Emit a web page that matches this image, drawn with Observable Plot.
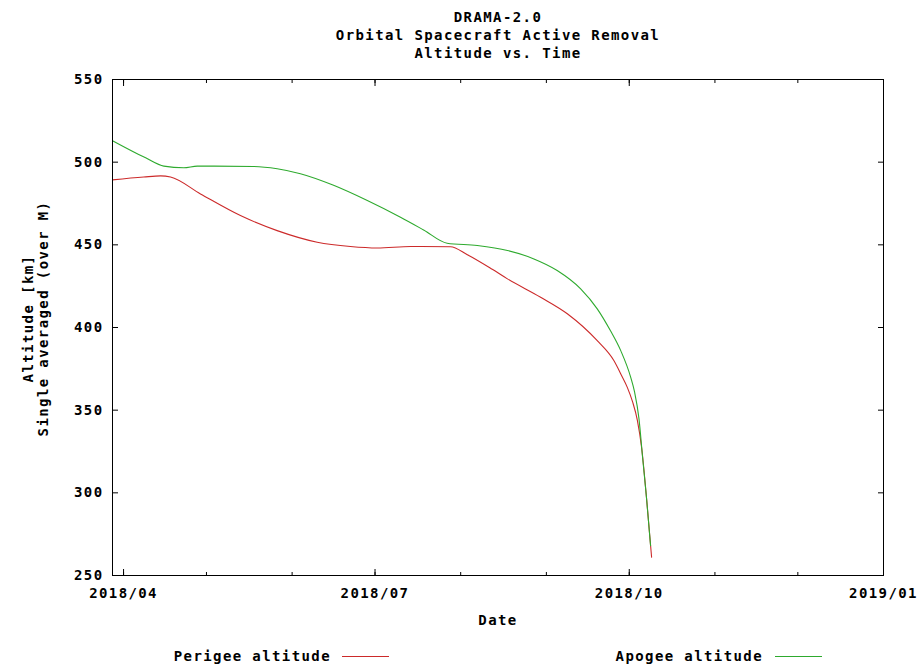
<!DOCTYPE html>
<html>
<head>
<meta charset="utf-8">
<script src="https://cdn.jsdelivr.net/npm/d3@7"></script>
<script src="https://cdn.jsdelivr.net/npm/@observablehq/plot@0.6"></script>
<style>
  html, body { margin: 0; padding: 0; background: #fff; }
  #wrap { position: relative; width: 917px; height: 666px; font-family: "DejaVu Sans Mono", monospace; font-weight: bold; font-size: 14px; letter-spacing: 1.4px; color: #000; }
  .leg { position: absolute; top: 648px; white-space: nowrap; line-height: 16px; }
  .sw { position: absolute; height: 0; border-top: 1px solid; }
</style>
</head>
<body>
<div id="wrap"></div>
<script>
// ---- data ----
const titleLines = ["DRAMA-2.0", "Orbital Spacecraft Active Removal", "Altitude vs. Time"];
const xLabel = "Date";
const yLabelLines = ["Altitude [km]", "Single averaged (over M)"];
const seriesNames = ["Perigee altitude", "Apogee altitude"];
const seriesColors = ["#cc2a2a", "#2eaa2e"];

const xDomain = ["2018-03-28T00:00", "2019-01-01T00:00"];
const yDomain = [250, 550];
const yTicks = [250, 300, 350, 400, 450, 500, 550];
const quarterTicks = ["2018-04-01T00:00", "2018-07-01T00:00", "2018-10-01T00:00", "2019-01-01T00:00"];
const monthTicks = ["2018-04-01T00:00", "2018-05-01T00:00", "2018-06-01T00:00", "2018-07-01T00:00", "2018-08-01T00:00",
  "2018-09-01T00:00", "2018-10-01T00:00", "2018-11-01T00:00", "2018-12-01T00:00", "2019-01-01T00:00"];

const perigeeDates = ["2018-03-28T00:00", "2018-04-08T07:00", "2018-04-14T10:00", "2018-04-18T00:00", "2018-04-28T20:00",
  "2018-05-13T07:00", "2018-05-26T14:00", "2018-06-10T02:00", "2018-06-22T02:00", "2018-07-01T19:00",
  "2018-07-13T22:00", "2018-07-28T07:00", "2018-08-03T10:00", "2018-08-12T10:00",
  "2018-08-17T22:00", "2018-08-29T22:00", "2018-09-08T14:00", "2018-09-19T10:00", "2018-09-25T10:00",
  "2018-09-28T05:00", "2018-09-30T07:00", "2018-10-02T05:00", "2018-10-03T22:00", "2018-10-05T12:00",
  "2018-10-07T07:00", "2018-10-09T02:00"];
const perigeeAlt = [489.3, 491.0, 491.7, 491.0, 480.8,
  467.7, 458.6, 451.6, 449.0, 448.1,
  449.0, 448.8, 444.0, 435.2,
  429.4, 418.3, 408.3, 392.0, 380.0,
  371.0, 363.8, 355.0, 344.0, 327.0,
  296.0, 261.0];

const apogeeDates = ["2018-03-28T00:00", "2018-04-09T00:00", "2018-04-15T14:00", "2018-04-22T19:00", "2018-04-27T16:00",
  "2018-05-18T00:00", "2018-05-26T14:00", "2018-06-04T00:00", "2018-06-16T00:00", "2018-06-28T05:00",
  "2018-07-10T05:00", "2018-07-18T14:00", "2018-07-27T02:00", "2018-08-07T00:00",
  "2018-08-17T22:00", "2018-08-27T12:00", "2018-09-04T22:00", "2018-09-13T10:00", "2018-09-19T10:00",
  "2018-09-24T05:00", "2018-09-27T22:00", "2018-10-01T12:00", "2018-10-02T22:00", "2018-10-04T12:00",
  "2018-10-05T19:00", "2018-10-07T07:00", "2018-10-08T17:00"];
const apogeeAlt = [513.0, 502.6, 497.6, 496.6, 497.6,
  497.4, 496.0, 493.0, 486.0, 476.8,
  466.7, 459.0, 451.0, 449.6,
  446.6, 441.5, 434.5, 423.4, 411.3,
  398.0, 386.0, 370.0, 361.0, 345.0,
  322.0, 296.0, 268.0];

// ---- build ----
const parse = d3.utcParse("%Y-%m-%dT%H:%M");
const perigee = perigeeDates.map((d, i) => ({date: parse(d), alt: perigeeAlt[i]}));
const apogee = apogeeDates.map((d, i) => ({date: parse(d), alt: apogeeAlt[i]}));
const qT = quarterTicks.map(parse);
const mT = monthTicks.map(parse);

const chart = Plot.plot({
  width: 917,
  height: 640,
  marginTop: 79,
  marginLeft: 112,
  marginRight: 34,
  marginBottom: 65,
  x: {type: "utc", domain: xDomain.map(parse)},
  y: {domain: yDomain},
  style: {fontFamily: "'DejaVu Sans Mono', monospace", fontSize: "14px", fontWeight: "bold", letterSpacing: "1.4px", color: "#000", background: "#fff", overflow: "visible"},
  marks: [
    Plot.axisY({ticks: yTicks, tickSize: 0, tickPadding: 9, label: null}),
    Plot.axisY({ticks: yTicks, tickSize: -6, fill: "none", label: null}),
    Plot.axisY({anchor: "right", ticks: yTicks, tickSize: -6, fill: "none", label: null}),
    Plot.axisX({ticks: qT, tickSize: 0, tickPadding: 13, tickFormat: d3.utcFormat("%Y/%m"), label: null}),
    Plot.axisX({ticks: qT, tickSize: -6, fill: "none", label: null}),
    Plot.axisX({ticks: mT, tickSize: -3, fill: "none", label: null}),
    Plot.axisX({anchor: "top", ticks: qT, tickSize: -6, fill: "none", label: null}),
    Plot.axisX({anchor: "top", ticks: mT, tickSize: -3, fill: "none", label: null}),
    Plot.line(perigee, {x: "date", y: "alt", stroke: seriesColors[0], strokeWidth: 1.1, curve: "monotone-x"}),
    Plot.line(apogee, {x: "date", y: "alt", stroke: seriesColors[1], strokeWidth: 1.1, curve: "monotone-x"}),
    Plot.frame({stroke: "#000", strokeWidth: 1}),
    Plot.text([titleLines.join("\n")], {text: d => d, frameAnchor: "top", lineAnchor: "top", dy: -70, lineHeight: 1.286, fontSize: 14, fontWeight: "bold"}),
    Plot.text([xLabel], {text: d => d, frameAnchor: "bottom", lineAnchor: "top", dy: 40, fontSize: 14, fontWeight: "bold"}),
    Plot.text([yLabelLines.join("\n")], {text: d => d, frameAnchor: "left", textAnchor: "middle", rotate: -90, lineAnchor: "middle", lineHeight: 1.07, dx: -77, dy: -9, fontSize: 14, fontWeight: "bold", ariaLabel: "ytitle"})
  ]
});

d3.select(chart).selectAll('g[aria-label="ytitle"]').style("letter-spacing", "0.4px");

const wrap = document.getElementById("wrap");
wrap.appendChild(chart);

// legend (below the SVG)
const legendPos = [{textRight: 331, lineLeft: 342, lineRight: 389}, {textRight: 763, lineLeft: 775, lineRight: 822}];
seriesNames.forEach((name, i) => {
  const t = document.createElement("div");
  t.className = "leg";
  t.textContent = name;
  t.style.right = (917 - legendPos[i].textRight) + "px";
  wrap.appendChild(t);
  const s = document.createElement("div");
  s.className = "sw";
  s.style.left = legendPos[i].lineLeft + "px";
  s.style.width = (legendPos[i].lineRight - legendPos[i].lineLeft) + "px";
  s.style.top = "656px";
  s.style.borderColor = seriesColors[i];
  wrap.appendChild(s);
});
</script>
</body>
</html>
